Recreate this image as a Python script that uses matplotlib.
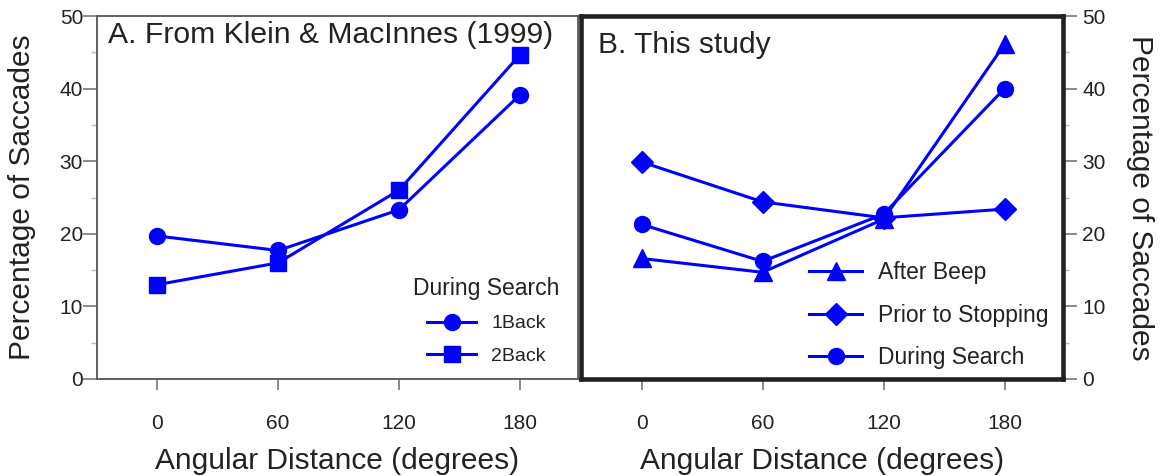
import matplotlib
matplotlib.use('Agg')
import matplotlib.pyplot as plt
from matplotlib.ticker import MultipleLocator

# Winkelabstand (Grad)
angles = [0, 60, 120, 180]

# A. Klein & MacInnes (1999), during search
klein_1back = [19.7, 17.7, 23.3, 39.1]
klein_2back = [13.0, 16.0, 26.0, 44.6]

# B. This study
study_after_beep = [16.6, 14.7, 22.0, 46.1]
study_prior_stop = [29.9, 24.4, 22.2, 23.4]
study_during_search = [21.3, 16.2, 22.7, 40.0]

xticks = [0, 60, 120, 180]
yticks = [0, 10, 20, 30, 40, 50]

plt.rcParams['font.family'] = ['Liberation Sans', 'DejaVu Sans']

BLUE = '#0000ff'
TXT = '#222222'
LW = 2.2

W, H = 1162, 476
fig = plt.figure(figsize=(W / 100, H / 100), dpi=100)
axA = fig.add_axes([97 / W, 97 / H, 481 / W, 363 / H])
axB = fig.add_axes([581 / W, 97 / H, 482 / W, 363 / H])


def style_axis(ax):
    ax.set_xlim(-30, 209)
    ax.set_ylim(0, 50)
    ax.set_xticks(xticks)
    ax.set_yticks(yticks)
    ax.yaxis.set_minor_locator(MultipleLocator(5))
    ax.tick_params(axis='x', direction='out', length=8, width=1.2,
                   color='#777777', labelsize=15, labelcolor=TXT, pad=17)
    ax.tick_params(axis='y', which='major', direction='out', length=10,
                   width=1.2, color='#777777', labelsize=15, labelcolor=TXT)
    ax.tick_params(axis='y', which='minor', direction='out', length=4,
                   width=1.0, color='#bbbbbb')
    ax.set_xlabel('Angular Distance (degrees)', fontsize=21.5, color=TXT,
                  labelpad=10)


# --- Panel A ---
style_axis(axA)
axA.tick_params(axis='y', pad=0)
for s in axA.spines.values():
    s.set_color('#555555')
    s.set_linewidth(1.3)
axA.plot(angles, klein_1back, '-o', color=BLUE, lw=LW, ms=11.5,
         label='1Back')
axA.plot(angles, klein_2back, '-s', color=BLUE, lw=LW, ms=11,
         label='2Back')
axA.set_ylabel('Percentage of Saccades', fontsize=21.5, color=TXT,
               labelpad=17)
axA.text(0.023, 0.985, 'A. From Klein & MacInnes (1999)', transform=axA.transAxes,
         fontsize=21.7, color=TXT, ha='left', va='top')
legA = axA.legend(title='During Search', loc='center',
                  bbox_to_anchor=(0.81, 0.16), frameon=False, fontsize=14,
                  title_fontsize=16.5, handlelength=2.5, handletextpad=0.8,
                  labelspacing=0.75, borderpad=0)
legA.get_title().set_color(TXT)
for t in legA.get_texts():
    t.set_color(TXT)

# --- Panel B ---
style_axis(axB)
axB.yaxis.tick_right()
axB.yaxis.set_label_position('right')
axB.tick_params(axis='y', which='both', left=False, right=True, pad=4)
for s in axB.spines.values():
    s.set_color('#222222')
    s.set_linewidth(3.3)
axB.plot(angles, study_after_beep, '-^', color=BLUE, lw=LW, ms=12.5,
         label='After Beep')
axB.plot(angles, study_prior_stop, '-D', color=BLUE, lw=LW, ms=11.5,
         label='Prior to Stopping')
axB.plot(angles, study_during_search, '-o', color=BLUE, lw=LW, ms=11.5,
         label='During Search')
axB.set_ylabel('Percentage of Saccades', fontsize=21.5, color=TXT,
               rotation=270, labelpad=35)
axB.text(0.035, 0.958, 'B. This study', transform=axB.transAxes,
         fontsize=21.5, color=TXT, ha='left', va='top')
legB = axB.legend(loc='center', bbox_to_anchor=(0.722, 0.175),
                  frameon=False, fontsize=16.5, handlelength=2.3,
                  handletextpad=0.7, labelspacing=0.85, borderpad=0)
for t in legB.get_texts():
    t.set_color(TXT)

fig.savefig('out.png', dpi=100)
